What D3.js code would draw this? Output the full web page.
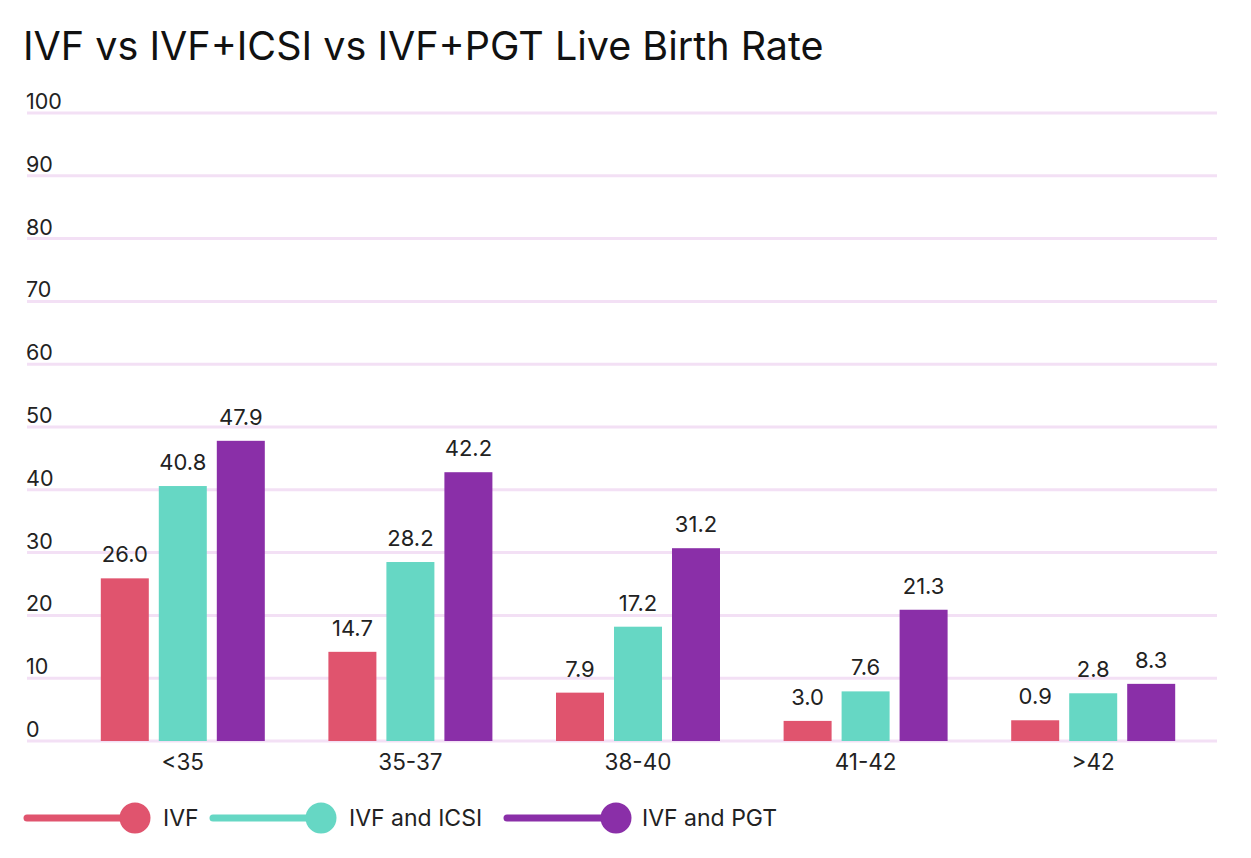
<!DOCTYPE html>
<html>
<head>
<meta charset="utf-8">
<script src="https://cdn.jsdelivr.net/npm/d3@7"></script>
<style>
  body { margin: 0; background: #fff; }
  svg { display: block; font-family: Inter, "Noto Sans", sans-serif; }
</style>
</head>
<body>
<svg id="chart" width="1251" height="858"></svg>
<script>
// data
const categories = ["<35", "35-37", "38-40", "41-42", ">42"];
const seriesNames = ["IVF", "IVF and ICSI", "IVF and PGT"];
const seriesColors = ["#E0546E", "#66D7C4", "#8A2FA8"];
// heights of the drawn bars
const ivfBars = [25.9, 14.2, 7.7, 3.2, 3.3];
const icsiBars = [40.6, 28.5, 18.2, 7.9, 7.6];
const pgtBars = [47.8, 42.8, 30.7, 20.9, 9.1];
// printed value labels
const ivfLabels = ["26.0", "14.7", "7.9", "3.0", "0.9"];
const icsiLabels = ["40.8", "28.2", "17.2", "7.6", "2.8"];
const pgtLabels = ["47.9", "42.2", "31.2", "21.3", "8.3"];
const yTicks = [0, 10, 20, 30, 40, 50, 60, 70, 80, 90, 100];

const bars = [ivfBars, icsiBars, pgtBars];
const labels = [ivfLabels, icsiLabels, pgtLabels];

const svg = d3.select("#chart");

// title
svg.append("text")
    .attr("x", 23)
    .attr("y", 60)
    .attr("font-size", 39.5)
    .attr("fill", "#111")
    .text("IVF vs IVF+ICSI vs IVF+PGT Live Birth Rate");

const y = d3.scaleLinear().domain([0, 100]).range([741, 113]);
const x = d3.scaleBand().domain(categories).range([69, 1207]);
const barW = 48, barGap = 10;

// gridlines + tick labels
const grid = svg.append("g");
grid.selectAll("line").data(yTicks).join("line")
    .attr("x1", 27).attr("x2", 1217)
    .attr("y1", d => y(d)).attr("y2", d => y(d))
    .attr("stroke", "#F3E0F5")
    .attr("stroke-width", 3);
grid.selectAll("text").data(yTicks).join("text")
    .attr("x", 26)
    .attr("y", d => y(d) - 4)
    .attr("font-size", 21.5)
    .attr("fill", "#222")
    .text(d => d);

// bars
const groups = svg.append("g").selectAll("g").data(categories).join("g")
    .attr("transform", d => `translate(${x(d) + x.bandwidth() / 2},0)`);

seriesNames.forEach((name, si) => {
    const offset = (si - 1) * (barW + barGap) - barW / 2;
    groups.append("rect")
        .attr("x", offset)
        .attr("width", barW)
        .attr("y", (d, i) => y(bars[si][i]))
        .attr("height", (d, i) => y(0) - y(bars[si][i]))
        .attr("fill", seriesColors[si]);
    groups.append("text")
        .attr("x", offset + barW / 2)
        .attr("y", (d, i) => y(bars[si][i]) - 16)
        .attr("text-anchor", "middle")
        .attr("font-size", 22)
        .attr("fill", "#222")
        .text((d, i) => labels[si][i]);
});

// category axis labels
svg.append("g").selectAll("text").data(categories).join("text")
    .attr("x", d => x(d) + x.bandwidth() / 2)
    .attr("y", 770)
    .attr("text-anchor", "middle")
    .attr("font-size", 22.5)
    .attr("fill", "#222")
    .text(d => d);

// legend
const legendX = [27, 213, 507];
const legend = svg.append("g").selectAll("g").data(seriesNames).join("g")
    .attr("transform", (d, i) => `translate(${legendX[i]},818)`);
legend.append("line")
    .attr("x1", 0).attr("x2", (d, i) => i === 2 ? 105 : 107)
    .attr("stroke", (d, i) => seriesColors[i])
    .attr("stroke-width", 7)
    .attr("stroke-linecap", "round");
legend.append("circle")
    .attr("cx", (d, i) => i === 2 ? 109 : 108)
    .attr("r", 15.5)
    .attr("fill", (d, i) => seriesColors[i]);
legend.append("text")
    .attr("x", (d, i) => i === 2 ? 135 : 136)
    .attr("y", 8)
    .attr("font-size", 23)
    .attr("fill", "#222")
    .text(d => d);
</script>
</body>
</html>
